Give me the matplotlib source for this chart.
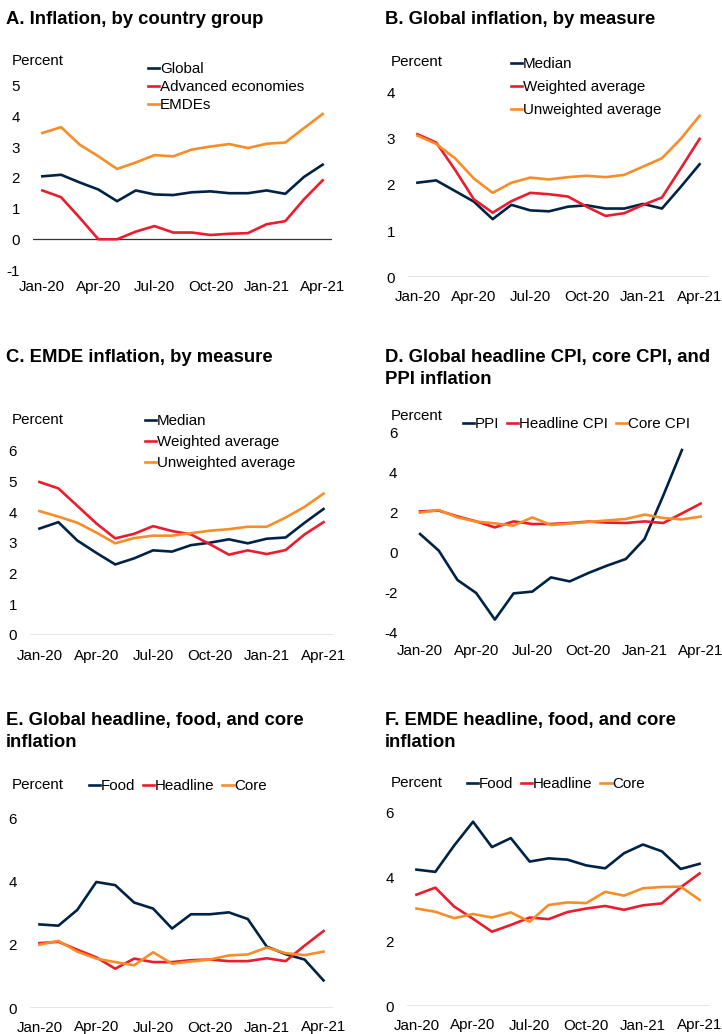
import numpy as np
import matplotlib
matplotlib.use("Agg")
from matplotlib import pyplot as plt

plt.rcParams["font.family"] = ["Liberation Sans", "DejaVu Sans"]
plt.rcParams["axes.unicode_minus"] = False

NAVY = "#002345"
RED = "#EB1C2D"
ORANGE = "#F78D28"

months = ["Jan-20", "Feb-20", "Mar-20", "Apr-20", "May-20", "Jun-20", "Jul-20", "Aug-20",
          "Sep-20", "Oct-20", "Nov-20", "Dec-20", "Jan-21", "Feb-21", "Mar-21", "Apr-21"]
tick_pos = [0, 3, 6, 9, 12, 15]

# A. Inflation, by country group
a_global = [2.05, 2.10, 1.85, 1.62, 1.24, 1.59, 1.46, 1.44, 1.53, 1.56, 1.50, 1.50, 1.59, 1.48, 2.03, 2.43]
a_advanced = [1.59, 1.37, 0.70, 0.00, 0.00, 0.25, 0.43, 0.22, 0.22, 0.14, 0.18, 0.20, 0.49, 0.59, 1.30, 1.92]
a_emdes = [3.46, 3.65, 3.08, 2.70, 2.29, 2.50, 2.74, 2.70, 2.92, 3.02, 3.10, 2.97, 3.11, 3.15, 3.62, 4.08]

# B. Global inflation, by measure
b_median = [2.05, 2.10, 1.87, 1.64, 1.26, 1.57, 1.45, 1.43, 1.53, 1.56, 1.49, 1.49, 1.59, 1.49, 1.96, 2.45]
b_weighted = [3.10, 2.92, 2.33, 1.69, 1.40, 1.65, 1.83, 1.80, 1.75, 1.53, 1.33, 1.39, 1.57, 1.73, 2.36, 3.00]
b_unweighted = [3.07, 2.89, 2.58, 2.14, 1.83, 2.05, 2.16, 2.12, 2.17, 2.20, 2.17, 2.22, 2.40, 2.58, 3.00, 3.50]

# C. EMDE inflation, by measure
c_median = [3.47, 3.68, 3.08, 2.68, 2.30, 2.50, 2.76, 2.72, 2.93, 3.01, 3.12, 2.99, 3.14, 3.18, 3.66, 4.11]
c_weighted = [4.99, 4.78, 4.21, 3.64, 3.15, 3.30, 3.55, 3.39, 3.28, 2.96, 2.62, 2.76, 2.64, 2.77, 3.28, 3.68]
c_unweighted = [4.04, 3.86, 3.66, 3.34, 2.99, 3.16, 3.24, 3.24, 3.32, 3.40, 3.45, 3.53, 3.53, 3.83, 4.18, 4.61]

# D. Global headline CPI, core CPI, and PPI inflation (PPI not yet out for Apr-21)
d_ppi = [0.95, 0.12, -1.35, -2.00, -3.33, -2.02, -1.93, -1.22, -1.42, -1.00, -0.63, -0.30, 0.70, 2.87, 5.15, np.nan]
d_headline = [2.08, 2.12, 1.83, 1.58, 1.28, 1.58, 1.45, 1.45, 1.50, 1.57, 1.52, 1.50, 1.58, 1.50, 1.98, 2.47]
d_core = [2.02, 2.15, 1.78, 1.57, 1.48, 1.37, 1.78, 1.40, 1.47, 1.55, 1.63, 1.70, 1.92, 1.75, 1.68, 1.82]

# E. Global headline, food, and core inflation
e_food = [2.64, 2.60, 3.10, 3.98, 3.88, 3.33, 3.14, 2.51, 2.96, 2.96, 3.02, 2.81, 1.94, 1.70, 1.53, 0.87]
e_headline = [2.05, 2.09, 1.84, 1.60, 1.24, 1.56, 1.45, 1.45, 1.51, 1.53, 1.48, 1.48, 1.57, 1.48, 1.97, 2.43]
e_core = [2.00, 2.12, 1.78, 1.56, 1.45, 1.35, 1.76, 1.40, 1.47, 1.53, 1.66, 1.69, 1.91, 1.73, 1.67, 1.78]

# F. EMDE headline, food, and core inflation
f_food = [4.24, 4.17, 4.99, 5.73, 4.94, 5.22, 4.49, 4.59, 4.55, 4.37, 4.28, 4.75, 5.02, 4.81, 4.26, 4.42]
f_headline = [3.46, 3.68, 3.09, 2.71, 2.31, 2.52, 2.75, 2.70, 2.92, 3.03, 3.11, 2.99, 3.13, 3.19, 3.69, 4.12]
f_core = [3.03, 2.93, 2.73, 2.86, 2.75, 2.91, 2.62, 3.14, 3.22, 3.20, 3.55, 3.43, 3.66, 3.70, 3.71, 3.30]

W, H = 722, 1034
fig = plt.figure(figsize=(W / 100, H / 100), dpi=100)
x = np.arange(len(months))
FS = 10.9


def fx(px):
    return px / W


def fy(py):
    return 1 - py / H


def panel(title, title_xy, box, ylim, yticks, series, labels, legend_xy, ncol=1,
          zero_line=True, label_pad=9, percent_xy=None, rowgap=0.3):
    # box is (left, top, right, bottom) in pixels from the top-left corner
    left, top, right, bottom = box
    ax = fig.add_axes([fx(left), fy(bottom), fx(right - left), (bottom - top) / H])
    colors = [NAVY, RED, ORANGE]
    for s, lab, c in zip(series, labels, colors):
        ax.plot(x, s, color=c, lw=1.9, label=lab, solid_joinstyle="round")
    ax.set_xlim(-0.5, 15.5)
    ax.set_ylim(*ylim)
    ax.set_yticks(yticks)
    ax.set_xticks(tick_pos)
    ax.set_xticklabels([months[i] for i in tick_pos])
    ax.tick_params(length=0, labelsize=FS, colors="black")
    ax.tick_params(axis="x", pad=label_pad)
    ax.tick_params(axis="y", pad=9.5)
    for sp in ax.spines.values():
        sp.set_visible(False)
    if zero_line:
        ax.axhline(0, color="#333333", lw=0.9, zorder=0)
    fig.text(fx(title_xy[0]), fy(title_xy[1]), title, fontsize=13.3, fontweight="bold",
             va="top", ha="left", linespacing=1.42)
    fig.text(fx(percent_xy[0]), fy(percent_xy[1]), "Percent", fontsize=FS,
             va="center", ha="left")
    ax.legend(loc="upper left", bbox_to_anchor=(fx(legend_xy[0]), fy(legend_xy[1])),
              bbox_transform=fig.transFigure, frameon=False, fontsize=FS, ncol=ncol,
              handlelength=0.75, handletextpad=0.05, borderpad=0, borderaxespad=0,
              labelspacing=rowgap, columnspacing=0.5)
    return ax


panel("A. Inflation, by country group", (6, 11), (33, 85.7, 332, 270), (-1, 5), range(-1, 6),
      [a_global, a_advanced, a_emdes], ["Global", "Advanced economies", "EMDEs"],
      (148, 62), percent_xy=(12, 61), label_pad=7, rowgap=0.26)

panel("B. Global inflation, by measure", (385, 11), (408, 92.7, 709, 277.3), (0, 4), range(0, 5),
      [b_median, b_weighted, b_unweighted], ["Median", "Weighted average", "Unweighted average"],
      (511, 57), percent_xy=(391, 62), label_pad=9, rowgap=0.6)

panel("C. EMDE inflation, by measure", (6, 349), (30, 451, 333, 635), (0, 6), range(0, 7),
      [c_median, c_weighted, c_unweighted], ["Median", "Weighted average", "Unweighted average"],
      (145, 414), percent_xy=(12, 420), label_pad=10, rowgap=0.46)

panel("D. Global headline CPI, core CPI, and\nPPI inflation", (385, 349), (410.7, 433, 710, 633),
      (-4, 6), range(-4, 7, 2),
      [d_ppi, d_headline, d_core], ["PPI", "Headline CPI", "Core CPI"],
      (463, 417), ncol=3, zero_line=False, percent_xy=(391, 416), label_pad=8)

panel("E. Global headline, food, and core\ninflation", (6, 712), (30, 818, 333, 1008), (0, 6),
      range(0, 7, 2),
      [e_food, e_headline, e_core], ["Food", "Headline", "Core"],
      (89, 779), ncol=3, percent_xy=(12, 785), label_pad=9)

panel("F. EMDE headline, food, and core\ninflation", (385, 712), (407, 813, 709, 1006), (0, 6),
      range(0, 7, 2),
      [f_food, f_headline, f_core], ["Food", "Headline", "Core"],
      (467, 777), ncol=3, percent_xy=(391, 783), label_pad=9)

fig.savefig("out.png", dpi=100)
